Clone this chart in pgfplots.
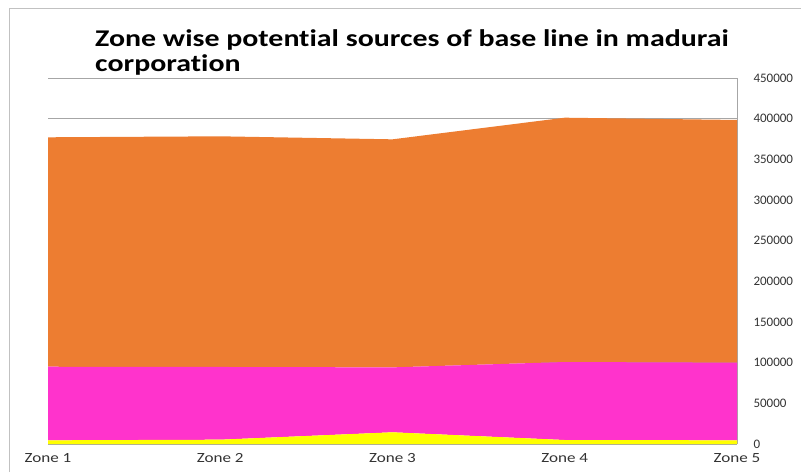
\documentclass[border=0pt]{standalone}
\usepackage{pgfplots}
\pgfplotsset{compat=1.18}
\usepackage{fontspec}
\setmainfont{Carlito}[Ligatures=NoCommon]
\newfontfamily\titlefont{Carlito}[Ligatures=NoCommon, FakeStretch=1.245]
\newfontfamily\zonefont{Carlito}[Ligatures=NoCommon, FakeStretch=1.22]
\definecolor{orangeA}{HTML}{ED7D31}
\definecolor{pinkA}{HTML}{FF33CC}
\definecolor{yellowA}{HTML}{FFFF00}
\definecolor{gridc}{HTML}{A6A6A6}
\begin{document}
\begin{tikzpicture}
\begin{axis}[
  set layers,
  at={(0pt,0pt)}, anchor=south west,
  scale only axis, width=689pt, height=366pt,
  xmin=0, xmax=4, ymin=0, ymax=450000,
  stack plots=y,
  scaled y ticks=false,
  axis x line*=bottom, axis y line*=right,
  x axis line style={draw=none},
  y axis line style={draw=gridc, line width=0.8pt},
  xtick={0,1,2,3,4},
  xticklabels={Zone 1,Zone 2,Zone 3,Zone 4,Zone 5},
  ytick={0,50000,100000,150000,200000,250000,300000,350000,400000,450000},
  yticklabels={0,50000,100000,150000,200000,250000,300000,350000,400000,450000},
  major tick length=0pt,
  ymajorgrids, grid style={gridc, line width=0.8pt},
  yticklabel style={font=\fontsize{13}{15}\selectfont, text=black!80, anchor=west, xshift=13pt},
  xticklabel style={font=\zonefont\fontsize{14}{15}\selectfont, text=black!80, yshift=-6pt},
  clip=false,
]
\addplot[fill=yellowA, draw=none] coordinates {(0,4500) (1,5300) (2,14400) (3,4900) (4,4500)} \closedcycle;
\addplot[fill=pinkA, draw=none] coordinates {(0,90500) (1,89400) (2,79800) (3,95900) (4,95500)} \closedcycle;
\addplot[fill=orangeA, draw=none] coordinates {(0,282100) (1,283600) (2,280400) (3,300400) (4,298400)} \closedcycle;
\end{axis}
\draw[gridc!70, line width=0.8pt] (-39pt,-28pt) -- (-39pt,436pt) -- (753pt,436pt);
\node[anchor=base west, inner sep=0pt, font=\titlefont\bfseries\fontsize{24}{25}\selectfont] at (47pt,397pt) {Zone wise potential sources of base line in madurai};
\node[anchor=base west, inner sep=0pt, font=\titlefont\bfseries\fontsize{24}{25}\selectfont] at (47pt,372pt) {corporation};
\pgfresetboundingbox
\path[use as bounding box] (-48pt,-28pt) rectangle (753pt,444pt);
\end{tikzpicture}
\end{document}
